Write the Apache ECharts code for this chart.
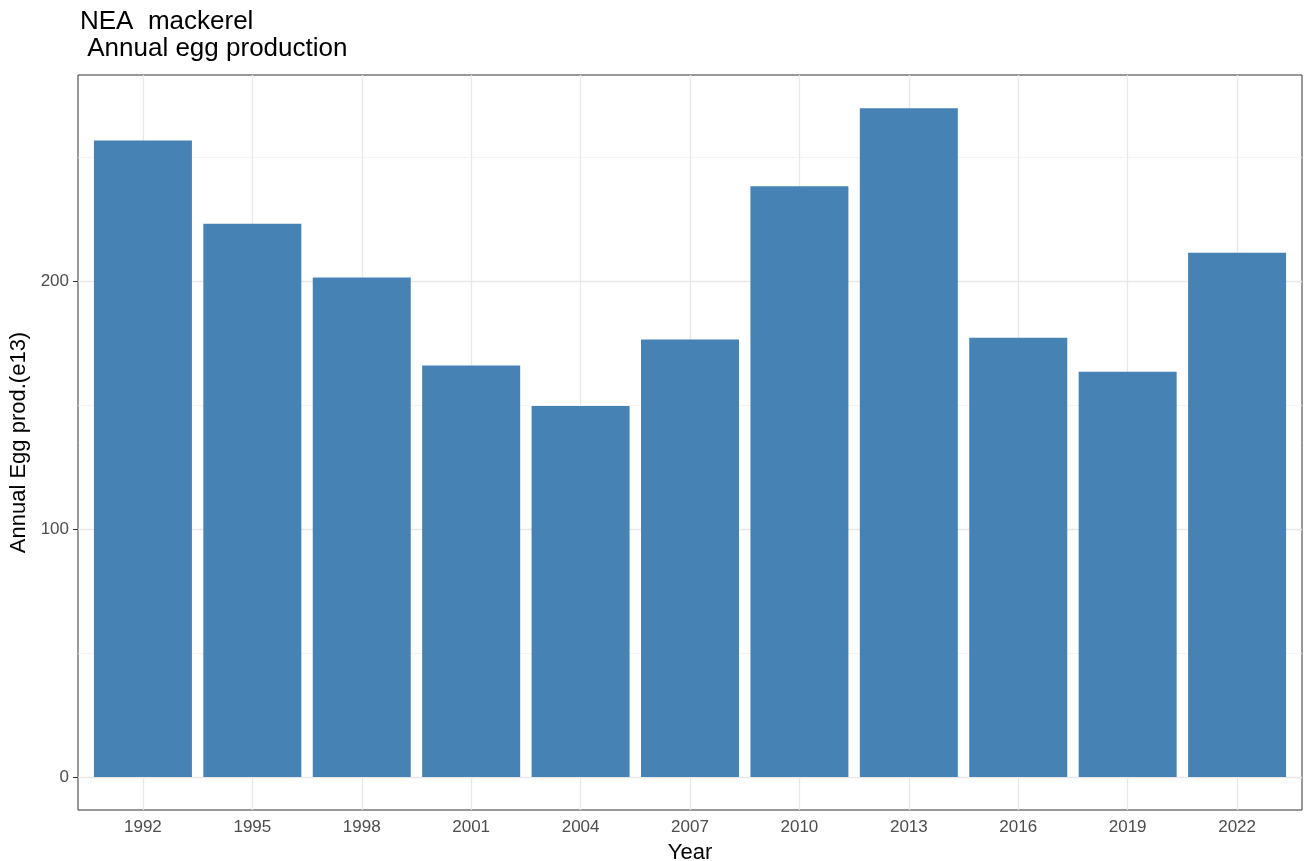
<!DOCTYPE html>
<html>
<head>
<meta charset="utf-8">
<script src="https://cdn.jsdelivr.net/npm/echarts@6/dist/echarts.min.js"></script>
<style>
  html, body { margin: 0; padding: 0; background: #fff; }
  #chart { width: 1309px; height: 861px; }
</style>
</head>
<body>
<div id="chart"></div>
<script>
// survey years and annual egg production (e13)
const years = [1992, 1995, 1998, 2001, 2004, 2007, 2010, 2013, 2016, 2019, 2022];
const eggProd = [256.9, 223.3, 201.6, 166.1, 149.7, 176.6, 238.4, 269.9, 177.3, 163.6, 211.6];
const yTicks = [0, 100, 200];
const yMinorLines = [50, 150, 250];

const chart = echarts.init(document.getElementById('chart'));
const font = 'Liberation Sans, Arial, Helvetica, sans-serif';

const option = {
  animation: false,
  title: {
    text: 'NEA  mackerel\n Annual egg production',
    left: 75,
    top: 3,
    textStyle: { fontFamily: font, fontSize: 26, fontWeight: 'normal', color: '#000', lineHeight: 27 }
  },
  grid: {
    left: 78, right: 7, top: 75, bottom: 51,
    outerBoundsMode: 'none',
    containLabel: false,
    show: true, borderColor: '#333', borderWidth: 1, backgroundColor: '#fff'
  },
  xAxis: {
    type: 'value',
    min: 1990.22,
    max: 2023.78,
    name: 'Year',
    nameLocation: 'middle',
    nameGap: 32,
    nameTextStyle: { fontFamily: font, fontSize: 22, color: '#000' },
    axisLine: { show: false },
    axisTick: { show: true, customValues: years, length: 5, lineStyle: { color: '#333' } },
    axisLabel: { customValues: years, margin: 9, fontFamily: font, fontSize: 17, color: '#4d4d4d',
      formatter: v => String(v) },
    splitLine: { show: false }
  },
  yAxis: {
    type: 'value',
    min: -13.3,
    max: 283.3,
    name: 'Annual Egg prod.(e13)',
    nameLocation: 'middle',
    nameGap: 42,
    nameTextStyle: { fontFamily: font, fontSize: 22, color: '#000' },
    axisLine: { show: false },
    axisTick: { show: true, customValues: yTicks, length: 5, lineStyle: { color: '#333' } },
    axisLabel: { customValues: yTicks, margin: 9, fontFamily: font, fontSize: 17, color: '#4d4d4d' },
    splitLine: { show: false }
  },
  series: [
    {
      // panel grid lines, kept on the bottom layer
      type: 'line',
      data: [],
      zlevel: 0,
      silent: true,
      markLine: {
        silent: true,
        symbol: 'none',
        label: { show: false },
        animation: false,
        data: [
          ...years.map(y => ({ xAxis: y, lineStyle: { color: '#e8e8e8', width: 1.3, type: 'solid' } })),
          ...yTicks.map(v => ({ yAxis: v, lineStyle: { color: '#e8e8e8', width: 1.3, type: 'solid' } })),
          ...yMinorLines.map(v => ({ yAxis: v, lineStyle: { color: '#f0f0f0', width: 0.8, type: 'solid' } }))
        ]
      }
    },
    {
      type: 'bar',
      zlevel: 1,
      barWidth: 98,
      data: years.map((y, i) => [y, eggProd[i]]),
      itemStyle: { color: '#4682b4' }
    }
  ]
};

chart.setOption(option);
</script>
</body>
</html>
